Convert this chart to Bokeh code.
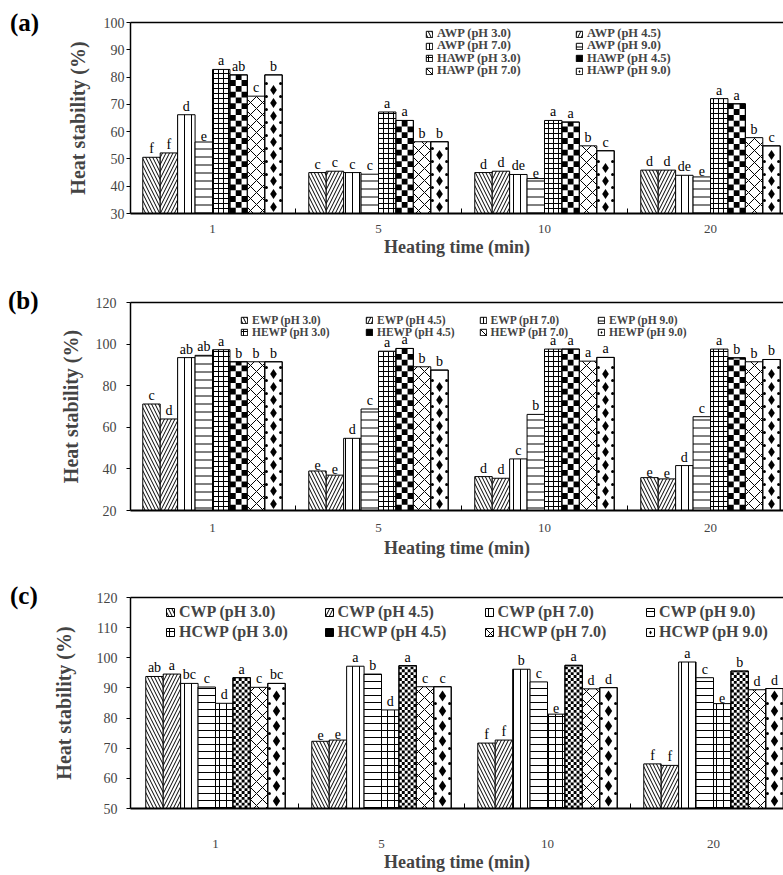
from bokeh.plotting import figure
from bokeh.models import (ColumnDataSource, FixedTicker, LinearAxis, Legend, LegendItem,
                          Range1d, Div)
from bokeh.layouts import column, row
from bokeh.core.properties import value
from bokeh.embed import file_html
from bokeh.resources import INLINE

# ---------------- data ----------------
heating_times = ["1", "5", "10", "20"]

a_series = ["AWP (pH 3.0)", "AWP (pH 4.5)", "AWP (pH 7.0)", "AWP (pH 9.0)",
            "HAWP (pH 3.0)", "HAWP (pH 4.5)", "HAWP (pH 7.0)", "HAWP (pH 9.0)"]
a_values = [
    [50.6, 45.0, 45.0, 45.9],
    [52.2, 45.5, 45.5, 45.9],
    [66.2, 45.0, 44.3, 44.0],
    [56.2, 44.4, 42.8, 43.4],
    [82.8, 67.2, 64.1, 72.1],
    [80.8, 64.1, 63.5, 70.2],
    [73.0, 56.3, 54.8, 57.8],
    [80.8, 56.3, 53.0, 54.8],
]
a_letters = [
    ["f", "c", "d", "d"],
    ["f", "c", "d", "d"],
    ["d", "c", "de", "de"],
    ["e", "c", "e", "e"],
    ["a", "a", "a", "a"],
    ["ab", "a", "a", "a"],
    ["c", "b", "b", "b"],
    ["b", "b", "c", "c"],
]

b_series = ["EWP (pH 3.0)", "EWP (pH 4.5)", "EWP (pH 7.0)", "EWP (pH 9.0)",
            "HEWP (pH 3.0)", "HEWP (pH 4.5)", "HEWP (pH 7.0)", "HEWP (pH 9.0)"]
b_values = [
    [71.2, 39.0, 36.3, 35.8],
    [64.0, 37.0, 35.5, 35.2],
    [93.5, 54.7, 44.8, 41.6],
    [94.6, 68.8, 66.2, 65.1],
    [97.3, 96.6, 97.6, 97.6],
    [91.5, 97.9, 97.6, 93.4],
    [91.5, 89.1, 91.8, 91.5],
    [91.5, 87.5, 93.6, 92.6],
]
b_letters = [
    ["c", "e", "d", "e"],
    ["d", "e", "d", "e"],
    ["ab", "d", "c", "d"],
    ["ab", "c", "b", "c"],
    ["a", "a", "a", "a"],
    ["b", "a", "a", "b"],
    ["b", "b", "a", "b"],
    ["b", "b", "a", "b"],
]

c_series = ["CWP (pH 3.0)", "CWP (pH 4.5)", "CWP (pH 7.0)", "CWP (pH 9.0)",
            "HCWP (pH 3.0)", "HCWP (pH 4.5)", "HCWP (pH 7.0)", "HCWP (pH 9.0)"]
c_values = [
    [93.8, 72.3, 71.7, 64.8],
    [94.6, 72.7, 72.7, 64.3],
    [91.5, 97.2, 96.2, 98.6],
    [90.3, 94.6, 92.0, 93.4],
    [84.9, 82.7, 81.3, 84.8],
    [93.4, 97.4, 97.5, 95.6],
    [90.2, 90.4, 89.7, 89.4],
    [91.5, 90.4, 90.1, 89.8],
]
c_letters = [
    ["ab", "e", "f", "f"],
    ["a", "e", "f", "f"],
    ["bc", "a", "b", "a"],
    ["c", "b", "c", "c"],
    ["d", "d", "e", "e"],
    ["a", "a", "a", "b"],
    ["c", "c", "d", "d"],
    ["bc", "c", "d", "d"],
]

# ---------------- styles ----------------
SERIF = "Liberation Serif"
PAGE_W = 783
TAG_W = 40            # width of the column holding the panel tag
FIG_W = PAGE_W - TAG_W
PX_PER_GROUP = 166.0
BAR_W = 0.105

# (pattern, size in px)
hatch_ab = [("\\", 7), ("/", 7), ("|", 7), ("-", 8), ("+", 5), ("chk", 5.8), ("x", 12), ("dia", 13)]
hatch_c = [("\\", 7), ("/", 7), ("|", 7), ("-", 7), ("+", 7), ("chk", 2.9), ("x", 12), ("dia", 15)]


def checker_cells(xc, top, ymin, ppu, cell_px):
    ncols = max(1, int(round(BAR_W * PX_PER_GROUP / cell_px)))
    cw = BAR_W / ncols
    ch = cell_px / ppu
    left = xc - BAR_W / 2
    L, R, B, T = [], [], [], []
    r = 0
    yb = ymin
    while yb < top - 1e-9:
        yt = min(yb + ch, top)
        for c in range(ncols):
            if (r + c) % 2 == 0:
                L.append(left + c * cw)
                R.append(left + (c + 1) * cw)
                B.append(yb)
                T.append(yt)
        r += 1
        yb += ch
    return L, R, B, T


def diamond_points(xc, top, ymin, ppu, step_px, dsize):
    cx, cy, ex, ey = [], [], [], []
    h_px = (top - ymin) * ppu
    j = 0
    while step_px / 2 + j * step_px + dsize / 2 <= h_px - 1:
        cx.append(xc)
        cy.append(ymin + (step_px / 2 + j * step_px) / ppu)
        j += 1
    j = 1
    off = 1.6 / PX_PER_GROUP
    while j * step_px <= h_px - 3:
        for sx in (xc - BAR_W / 2 + off, xc + BAR_W / 2 - off):
            ex.append(sx)
            ey.append(ymin + j * step_px / ppu)
        j += 1
    return cx, cy, ex, ey


def make_panel(tag, series, values, letters, ymin, ymax, ystep, hatches,
               page_y0, fig_h, b_top, b_bot, frame_left_page, grp0_px,
               tick_standoff, title_standoff, ytick_standoff, ytitle_standoff,
               leg_rows, leg_cols, leg_grid, leg_font, leg_glyph, leg_h, tag_pos):
    b_left = frame_left_page - TAG_W
    frame_w = FIG_W - b_left
    frame_h = fig_h - b_top - b_bot
    ppu = frame_h / float(ymax - ymin)
    frame_bottom_page = page_y0 + fig_h - b_bot
    x_start = -(grp0_px - frame_left_page) / PX_PER_GROUP
    x_end = x_start + frame_w / PX_PER_GROUP
    p = figure(width=FIG_W, height=fig_h, output_backend="svg", toolbar_location=None,
               x_range=Range1d(x_start, x_end), y_range=Range1d(ymin, ymax),
               min_border_left=b_left, min_border_right=0, min_border_top=b_top,
               min_border_bottom=b_bot)
    p.outline_line_color = None
    p.xgrid.visible = False
    p.ygrid.visible = False

    legend_renderers = []
    srcs = []
    for i, (name, vals, lets) in enumerate(zip(series, values, letters)):
        xs = [g + (i - 3.5) * BAR_W for g in range(len(heating_times))]
        src = ColumnDataSource(dict(x=xs, top=vals, lab=lets))
        srcs.append(src)
        pat, sc = hatches[i]
        if pat in ("chk", "dia"):
            r = p.vbar(x="x", top="top", bottom=ymin, width=BAR_W, source=src,
                       fill_color="white", line_color="black", line_width=1)
            if pat == "chk":
                L, R, B, T = [], [], [], []
                for xc, tp in zip(xs, vals):
                    l, rr, b, t = checker_cells(xc, tp, ymin, ppu, sc)
                    L += l; R += rr; B += b; T += t
                ov = p.quad(left=L, right=R, bottom=B, top=T, fill_color="black",
                            line_color=None)
            else:
                CX, CY, EX, EY = [], [], [], []
                for xc, tp in zip(xs, vals):
                    cx, cy, ex, ey = diamond_points(xc, tp, ymin, ppu, sc, 10)
                    CX += cx; CY += cy; EX += ex; EY += ey
                ov = p.scatter(x=CX, y=CY, marker="diamond", size=11 if sc > 13 else 10,
                               fill_color="black", line_color=None)
                p.scatter(x=EX, y=EY, marker="circle", size=3, fill_color="black",
                          line_color=None)
            p.vbar(x="x", top="top", bottom=ymin, width=BAR_W, source=src,
                   fill_alpha=0, line_color="black", line_width=1)
            legend_renderers.append([r, ov])
        else:
            r = p.vbar(x="x", top="top", bottom=ymin, width=BAR_W, source=src,
                       fill_color="white", line_color="black", line_width=1,
                       hatch_pattern=pat, hatch_scale=sc, hatch_weight=1,
                       hatch_color="black")
            legend_renderers.append([r])

    for src in srcs:
        p.text(x="x", y="top", text="lab", source=src, text_align="center",
               text_baseline="bottom", y_offset=-1, text_font=value(SERIF),
               text_font_size="14px", text_color="black")

    # x axis
    xa = p.xaxis[0]
    xa.ticker = FixedTicker(ticks=list(range(len(heating_times))),
                            minor_ticks=[g + 0.5 for g in range(len(heating_times) - 1)])
    xa.major_label_overrides = {i: t for i, t in enumerate(heating_times)}
    xa.major_tick_in = 0
    xa.major_tick_out = 0
    xa.minor_tick_in = 5
    xa.minor_tick_out = 0
    xa.axis_line_width = 2
    xa.major_label_text_font = SERIF
    xa.major_label_text_font_size = "13px"
    xa.major_label_standoff = tick_standoff
    xa.axis_label = "Heating time (min)"
    xa.axis_label_text_font = SERIF
    xa.axis_label_text_font_style = "bold"
    xa.axis_label_text_font_size = "18px"
    xa.axis_label_standoff = title_standoff

    ya = p.yaxis[0]
    ya.ticker = FixedTicker(ticks=list(range(ymin, ymax + 1, ystep)))
    ya.major_tick_in = 0
    ya.major_tick_out = 4
    ya.minor_tick_in = 0
    ya.minor_tick_out = 0
    ya.axis_line_width = 1.5
    ya.major_label_text_font = SERIF
    ya.major_label_text_font_size = "14px"
    ya.major_label_standoff = ytick_standoff
    ya.axis_label = "Heat stability (%)"
    ya.axis_label_text_font = SERIF
    ya.axis_label_text_font_style = "bold"
    ya.axis_label_text_font_size = "20px"
    ya.axis_label_standoff = ytitle_standoff

    top_axis = LinearAxis(ticker=FixedTicker(ticks=[]), major_label_text_font_size="0px",
                          major_tick_out=0, major_tick_in=0, minor_tick_out=0,
                          axis_line_width=1.5, major_label_standoff=0)
    p.add_layout(top_axis, "above")

    # legend: one single-item legend per entry, placed on the reference grid
    for k in range(len(series)):
        rw, col = leg_grid(k)
        lx = leg_cols[col]
        ly = frame_bottom_page - leg_rows[rw] - leg_h / 2.0
        lg = Legend(items=[LegendItem(label=series[k], renderers=legend_renderers[k])],
                    location=(lx, ly), orientation="vertical",
                    glyph_width=leg_glyph, glyph_height=leg_glyph,
                    label_text_font=SERIF, label_text_font_style="bold",
                    label_text_font_size=leg_font, label_standoff=4,
                    label_height=leg_glyph, spacing=0, padding=0, margin=0,
                    border_line_color=None, background_fill_alpha=0)
        p.add_layout(lg)

    tag_div = Div(
        text=('<div style="margin:%dpx 0 0 %dpx;font-family:\'Liberation Serif\';'
              'font-weight:bold;font-size:25px;line-height:1;color:black;">%s</div>'
              % (tag_pos[1], tag_pos[0], tag)),
        width=TAG_W, height=fig_h, margin=(0, 0, 0, 0))
    return row(tag_div, p, spacing=0)


pa = make_panel("(a)", a_series, a_values, a_letters, 30, 100, 10, hatch_ab,
                page_y0=0, fig_h=263, b_top=22, b_bot=50, frame_left_page=130, grp0_px=212,
                tick_standoff=11, title_standoff=1, ytick_standoff=2, ytitle_standoff=12,
                leg_rows=[33.0, 45.3, 57.6, 70.0], leg_cols=[295, 445],
                leg_grid=lambda k: (k // 2, k % 2), leg_font="12.5px", leg_glyph=8,
                leg_h=16, tag_pos=(10, 10))

pb = make_panel("(b)", b_series, b_values, b_letters, 20, 120, 20, hatch_ab,
                page_y0=263, fig_h=302, b_top=39, b_bot=55, frame_left_page=130, grp0_px=212,
                tick_standoff=13, title_standoff=3, ytick_standoff=10, ytitle_standoff=11,
                leg_rows=[318.3, 330.0], leg_cols=[110, 235, 348.5, 467],
                leg_grid=lambda k: (k // 4, k % 4), leg_font="11.5px", leg_glyph=8,
                leg_h=15, tag_pos=(8, 25))

pc = make_panel("(c)", c_series, c_values, c_letters, 50, 120, 10, hatch_c,
                page_y0=565, fig_h=310, b_top=32, b_bot=67, frame_left_page=130, grp0_px=215,
                tick_standoff=31, title_standoff=1, ytick_standoff=9, ytitle_standoff=19,
                leg_rows=[611.7, 631.7], leg_cols=[35, 193.5, 353.5, 515],
                leg_grid=lambda k: (k // 4, k % 4), leg_font="16px", leg_glyph=10,
                leg_h=18, tag_pos=(10, 18))

layout = column(pa, pb, pc, spacing=0)
open("out.html", "w").write(file_html(layout, INLINE))
